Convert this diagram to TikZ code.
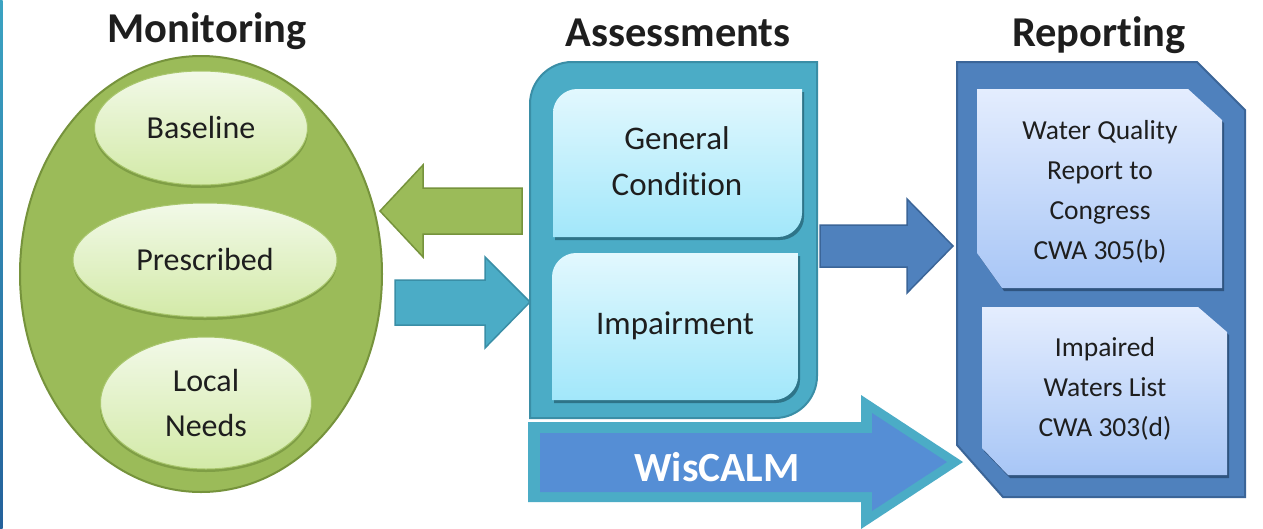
\documentclass[tikz,border=0pt]{standalone}
\usepackage{fontspec}
\setmainfont{Carlito}[RawFeature=-liga]
\usetikzlibrary{shapes.geometric}
\definecolor{mgreen}{HTML}{9BBB59}
\definecolor{mgreenD}{HTML}{76933C}
\definecolor{lgtop}{HTML}{F2F9E8}
\definecolor{lgbot}{HTML}{D3EAA8}
\definecolor{lgline}{HTML}{A8C66C}
\definecolor{lgshadow}{HTML}{7F9E45}
\definecolor{teal}{HTML}{4BACC6}
\definecolor{tealD}{HTML}{3A8EA6}
\definecolor{tealS}{HTML}{2E7488}
\definecolor{ctop}{HTML}{E2F8FE}
\definecolor{cbot}{HTML}{A2E7FA}
\definecolor{mblue}{HTML}{4F81BD}
\definecolor{mblueD}{HTML}{3B6598}
\definecolor{mblueS}{HTML}{2F5480}
\definecolor{btop}{HTML}{E4EDFE}
\definecolor{bbot}{HTML}{A8C6F6}
\definecolor{wblue}{HTML}{558ED5}
\definecolor{txt}{HTML}{1E1E1E}
\definecolor{stripT}{HTML}{3BA3C2}
\definecolor{stripB}{HTML}{24619B}
\begin{document}
\begin{tikzpicture}[x=1pt,y=-1pt,
  title/.style={font=\fontsize{42.5}{42}\selectfont\bfseries, text=txt, anchor=base, inner sep=0},
  inner/.style={ellipse, inner sep=0, top color=lgtop, bottom color=lgbot, draw=lgline, line width=1pt,
     font=\fontsize{32}{45}\selectfont, text=txt, align=center},
  boxtext/.style={font=\fontsize{33}{46}\selectfont, text=txt, align=center, inner sep=0},
  reptext/.style={font=\fontsize{27.5}{40}\selectfont, text=txt, align=center, inner sep=0},
  blockarrow/.style={line width=1.5pt, line join=miter}
]
\useasboundingbox (0,0) rectangle (1263,528);
\fill[white] (0,0) rectangle (1263,528);
\shade[top color=stripT, bottom color=stripB] (0,0) rectangle (2.5,528);

% titles
\node[title] (tmon) at (207,42) {Monitoring};
\node[title] (tass) at (678,46) {Assessments};
\node[title] (trep) at (1099,46) {Reporting};

% Monitoring
\node[ellipse, inner sep=0, minimum width=362pt, minimum height=436pt, fill=mgreen, draw=mgreenD, line width=2pt] (mon) at (201,274) {};
\fill[lgshadow] (201,131) ellipse [x radius=107, y radius=57];
\fill[lgshadow] (205,263) ellipse [x radius=132, y radius=57];
\fill[lgshadow] (206,406) ellipse [x radius=106, y radius=66];
\node[inner, minimum width=213pt, minimum height=114pt] (base) at (201,128) {Baseline};
\node[inner, minimum width=264pt, minimum height=114pt] (pres) at (205,260) {Prescribed};
\node[inner, minimum width=211pt, minimum height=132pt] (loc) at (206,403) {Local\\Needs};

% arrows between monitoring and assessments
\draw[blockarrow, fill=mgreen, draw=mgreenD] (522,188) -- (423,188) -- (423,165) -- (380,211) -- (423,257) -- (423,234) -- (522,234) -- cycle;
\draw[blockarrow, fill=teal, draw=tealD] (395,280) -- (485,280) -- (485,257) -- (530,302) -- (485,348) -- (485,325) -- (395,325) -- cycle;

% Assessments container
\draw[line width=2pt, fill=teal, draw=tealD]
  (530,104) .. controls (530,81) and (549,62) .. (572,62) -- (817,62) -- (817,376)
  .. controls (817,399) and (798,418) .. (775,418) -- (530,418) -- cycle;
% inner boxes: shadows
\fill[tealS] (555,115) .. controls (555,102) and (566,92) .. (579,92) -- (804,92) -- (804,217)
  .. controls (804,230) and (793,240) .. (780,240) -- (555,240) -- cycle;
\fill[tealS] (554,279) .. controls (554,266) and (565,256) .. (578,256) -- (800,256) -- (800,380)
  .. controls (800,393) and (789,403) .. (776,403) -- (554,403) -- cycle;
\shade[top color=ctop, bottom color=cbot]
  (553,113) .. controls (553,100) and (564,89) .. (577,89) -- (802,89) -- (802,213)
  .. controls (802,226) and (791,237) .. (778,237) -- (553,237) -- cycle;
\shade[top color=ctop, bottom color=cbot]
  (552,277) .. controls (552,264) and (563,253) .. (576,253) -- (798,253) -- (798,376)
  .. controls (798,389) and (787,400) .. (774,400) -- (552,400) -- cycle;
\node[boxtext] (gen) at (677,161) {General\\Condition};
\node[boxtext] (imp) at (675,326) {Impairment};

% WisCALM arrow
\fill[teal] (528,422) -- (861,422) -- (861,395) -- (963,462) -- (861,529) -- (861,502) -- (528,502) -- cycle;
\fill[wblue] (540,433) -- (872,433) -- (872,413) -- (947,462) -- (872,511) -- (872,492) -- (540,492) -- cycle;
\node[font=\fontsize{41.5}{41}\selectfont\bfseries, text=white, inner sep=0] (wis) at (717,467) {WisCALM};

% arrow to reporting
\draw[blockarrow, fill=mblue, draw=mblueD] (820,225) -- (907,225) -- (907,199) -- (953,246) -- (907,293) -- (907,267) -- (820,267) -- cycle;

% Reporting container
\draw[line width=2pt, fill=mblue, draw=mblueD, line join=miter]
  (957,62) -- (1197,62) -- (1245,110) -- (1245,497) -- (1003,497) -- (957,445) -- cycle;
\fill[mblueS] (979,92) -- (1190,92) -- (1224,123) -- (1224,291) -- (1004,291) -- (979,256) -- cycle;
\fill[mblueS] (984,310) -- (1200,310) -- (1229,335) -- (1229,478) -- (1010,478) -- (984,451) -- cycle;
\shade[top color=btop, bottom color=bbot]
  (977,89) -- (1188,89) -- (1222,120) -- (1222,288) -- (1002,288) -- (977,253) -- cycle;
\shade[top color=btop, bottom color=bbot]
  (982,307) -- (1198,307) -- (1227,332) -- (1227,475) -- (1008,475) -- (982,448) -- cycle;
\node[reptext] (wq) at (1100,192) {Water Quality\\Report to\\Congress\\CWA 305(b)};
\node[reptext] (iw) at (1105,389) {Impaired\\Waters List\\CWA 303(d)};
\end{tikzpicture}
\end{document}
